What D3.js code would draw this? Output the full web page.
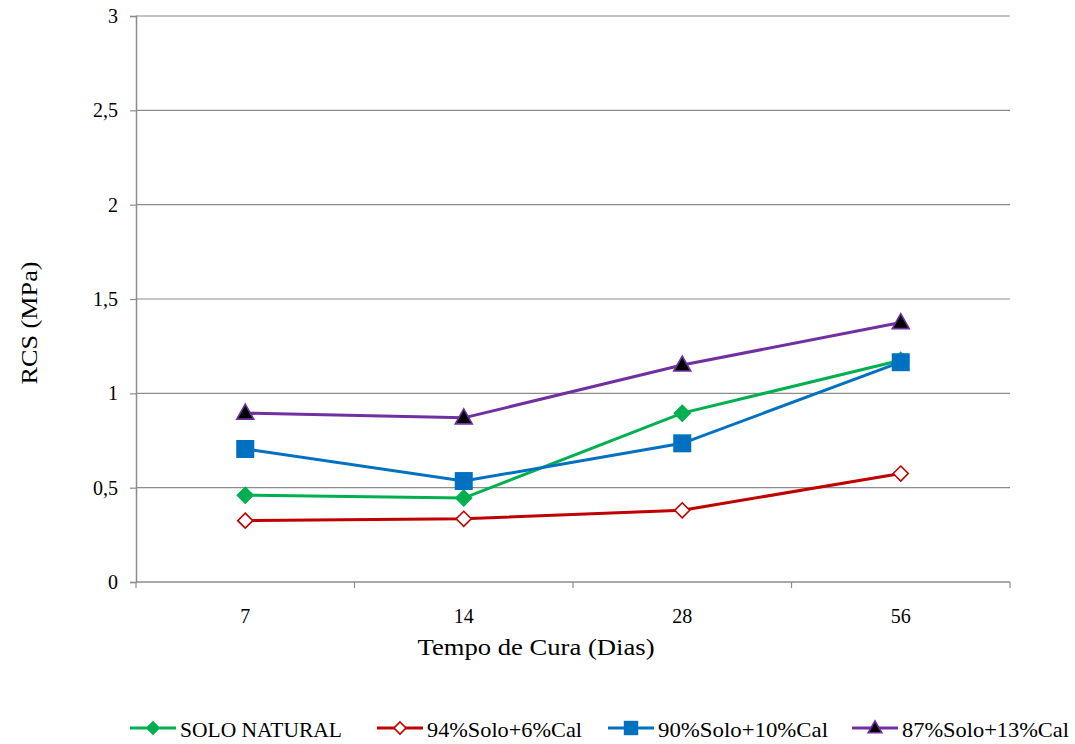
<!DOCTYPE html>
<html>
<head>
<meta charset="utf-8">
<script src="https://cdn.jsdelivr.net/npm/d3@7"></script>
<style>
  body { margin: 0; background: #fff; }
</style>
</head>
<body>
<svg id="chart"></svg>
<script>
const w = 1075;
const h = 744;
const FONT = "Liberation Serif, DejaVu Serif, serif";

// data
const dias = ["7", "14", "28", "56"];
const yTicks = [0, 0.5, 1, 1.5, 2, 2.5, 3];
const soloNatural = [0.46, 0.445, 0.895, 1.175];
const solo94 = [0.325, 0.335, 0.38, 0.575];
const solo90 = [0.705, 0.535, 0.735, 1.165];
const solo87 = [0.895, 0.87, 1.15, 1.375];

const series = [
  { name: "SOLO NATURAL", values: soloNatural, color: "#00B050", marker: "diamond" },
  { name: "94%Solo+6%Cal", values: solo94, color: "#C00000", marker: "openDiamond" },
  { name: "90%Solo+10%Cal", values: solo90, color: "#0070C0", marker: "square" },
  { name: "87%Solo+13%Cal", values: solo87, color: "#7030A0", marker: "triangle" }
];

const svg = d3.select("#chart").attr("width", w).attr("height", h)
  .style("font-family", FONT);

const margin = { top: 16, right: 65, bottom: 162, left: 136 };
const width = w - margin.left - margin.right;
const height = h - margin.top - margin.bottom;

const chart = svg.append("g")
  .attr("transform", `translate(${margin.left},${margin.top})`);

const x = d3.scaleBand().domain(dias).range([0, width]);
const y = d3.scaleLinear().domain([0, 3]).range([height, 0]);
const fmt = d => String(d).replace(".", ",");

// gridlines
chart.selectAll(".grid")
  .data(yTicks.filter(d => d > 0))
  .join("line")
  .attr("x1", 0).attr("x2", width)
  .attr("y1", d => y(d)).attr("y2", d => y(d))
  .attr("stroke", "#8c8c8c").attr("stroke-width", 1.2);

// y axis
const yAxis = chart.append("g")
  .call(d3.axisLeft(y).tickValues(yTicks).tickFormat(fmt).tickSize(6).tickPadding(12));
yAxis.attr("font-family", null);
yAxis.select(".domain").attr("stroke", "#8c8c8c").attr("stroke-width", 1.5);
yAxis.selectAll(".tick line").attr("stroke", "#8c8c8c").attr("stroke-width", 1.2);
yAxis.selectAll(".tick text")
  .style("font-family", FONT)
  .style("font-size", "20px")
  .attr("fill", "#000");

// x axis: ticks at category boundaries
const xAxis = chart.append("g").attr("transform", `translate(0,${height})`);
xAxis.append("line")
  .attr("x1", 0).attr("x2", width)
  .attr("stroke", "#8c8c8c").attr("stroke-width", 1.5);
xAxis.selectAll(".bound")
  .data(dias.concat(["end"]))
  .join("line")
  .attr("x1", (d, i) => i * x.step()).attr("x2", (d, i) => i * x.step())
  .attr("y1", 0).attr("y2", 6)
  .attr("stroke", "#8c8c8c").attr("stroke-width", 1.2);
xAxis.selectAll(".lbl")
  .data(dias)
  .join("text")
  .attr("x", d => x(d) + x.bandwidth() / 2)
  .attr("y", 41)
  .attr("text-anchor", "middle")
  .style("font-family", FONT)
  .style("font-size", "20px")
  .text(d => d);

// axis titles
svg.append("text")
  .attr("x", 536).attr("y", 655)
  .attr("text-anchor", "middle")
  .style("font-family", FONT)
  .style("font-size", "23px")
  .attr("textLength", 237)
  .attr("lengthAdjust", "spacingAndGlyphs")
  .text("Tempo de Cura (Dias)");
svg.append("text")
  .attr("transform", "translate(37,323) rotate(-90)")
  .attr("text-anchor", "middle")
  .style("font-family", FONT)
  .style("font-size", "23px")
  .attr("textLength", 123)
  .attr("lengthAdjust", "spacingAndGlyphs")
  .text("RCS (MPa)");

function drawMarker(g, s, k) {
  if (s.marker === "diamond") {
    g.append("path").attr("d", `M0,${-9 * k}L${9 * k},0L0,${9 * k}L${-9 * k},0Z`).attr("fill", s.color);
  } else if (s.marker === "openDiamond") {
    g.append("path").attr("d", `M0,${-7.5 * k}L${7.5 * k},0L0,${7.5 * k}L${-7.5 * k},0Z`)
      .attr("fill", "#fff").attr("stroke", s.color).attr("stroke-width", 1.6);
  } else if (s.marker === "square") {
    g.append("rect").attr("x", -9 * k).attr("y", -9 * k)
      .attr("width", 18 * k).attr("height", 18 * k).attr("fill", s.color);
  } else {
    g.append("path").attr("d", `M0,${-9 * k}L${8.5 * k},${6 * k}L${-8.5 * k},${6 * k}Z`)
      .attr("fill", "#000").attr("stroke", s.color).attr("stroke-width", 1.6);
  }
}

const line = d3.line()
  .x((d, i) => x(dias[i]) + x.bandwidth() / 2)
  .y(d => y(d));

series.forEach(s => {
  chart.append("path")
    .datum(s.values)
    .attr("d", line)
    .attr("fill", "none")
    .attr("stroke", s.color)
    .attr("stroke-width", 3);
});
series.forEach(s => {
  s.values.forEach((v, i) => {
    const g = chart.append("g")
      .attr("transform", `translate(${x(dias[i]) + x.bandwidth() / 2},${y(v)})`);
    drawMarker(g, s, 1);
  });
});

// legend
const legendX = [130, 377, 608, 852];
const legendW = [162, 155, 170, 167];
const legend = svg.append("g").attr("transform", "translate(0,728)");
series.forEach((s, i) => {
  const g = legend.append("g").attr("transform", `translate(${legendX[i]},0)`);
  g.append("line").attr("x1", 0).attr("x2", 46).attr("stroke", s.color).attr("stroke-width", 3);
  const m = g.append("g").attr("transform", "translate(23,0)");
  drawMarker(m, s, 0.8);
  g.append("text")
    .attr("x", 50).attr("y", 9)
    .style("font-family", FONT)
    .style("font-size", "21px")
    .attr("textLength", legendW[i])
    .attr("lengthAdjust", "spacingAndGlyphs")
    .text(s.name);
});
</script>
</body>
</html>
